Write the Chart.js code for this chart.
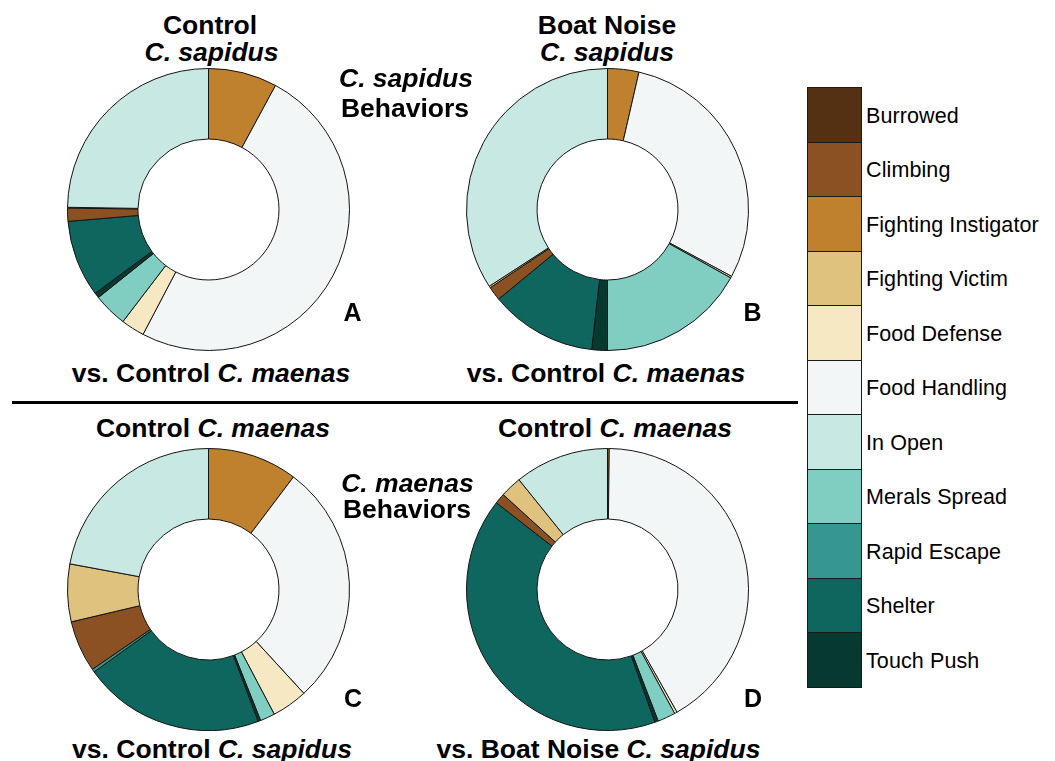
<!DOCTYPE html>
<html>
<head>
<meta charset="utf-8">
<script src="https://cdn.jsdelivr.net/npm/chart.js@4/dist/chart.umd.min.js"></script>
<style>
  html, body { margin: 0; padding: 0; background: #fff; }
  body { width: 1055px; height: 761px; position: relative; overflow: hidden;
         font-family: "Liberation Sans", Arial, Helvetica, sans-serif; color: #000; }
  .panel { position: absolute; width: 283px; height: 283px; }
  .txt { position: absolute; transform: translate(-50%, -50%); white-space: nowrap;
         font-weight: bold; font-size: 26.5px; line-height: 26px; }
  .it { font-style: italic; }
  .letter { font-size: 25px; line-height: 25px; }
  .rule { position: absolute; left: 12px; top: 400.5px; width: 786px; height: 3px; background: #000; }
  #legend { position: absolute; left: 807px; top: 87px; }
  .row { position: relative; height: 54.5px; }
  .sw { position: absolute; left: 0; top: 0; width: 53px; height: 53.5px;
        border: 1px solid #1a1a1a; border-top-width: 0.5px; border-bottom-width: 1px; box-sizing: content-box; }
  .lab { position: absolute; left: 59px; top: calc(50% + 1.5px); transform: translateY(-50%);
         font-size: 21.5px; line-height: 21px; letter-spacing: 0.1px; white-space: nowrap; }
</style>
</head>
<body>

<div class="panel" id="pA" style="left:67px; top:67.5px;"><canvas id="cA" width="283" height="283"></canvas></div>
<div class="panel" id="pB" style="left:466px; top:68px;"><canvas id="cB" width="283" height="283"></canvas></div>
<div class="panel" id="pC" style="left:67.3px; top:448px;"><canvas id="cC" width="283" height="283"></canvas></div>
<div class="panel" id="pD" style="left:466px; top:448px;"><canvas id="cD" width="283" height="283"></canvas></div>

<!-- panel headings -->
<div class="txt" style="left:210px; top:24.5px;">Control</div>
<div class="txt it" style="left:211.5px; top:51.5px;">C. sapidus</div>
<div class="txt" style="left:607px; top:24.5px;">Boat Noise</div>
<div class="txt it" style="left:607px; top:51.5px;">C. sapidus</div>
<div class="txt it" style="left:406px; top:78px;">C. sapidus</div>
<div class="txt" style="left:405px; top:108px;">Behaviors</div>
<div class="txt letter" style="left:352.5px; top:312px;">A</div>
<div class="txt letter" style="left:752.5px; top:312px;">B</div>
<div class="txt" style="left:211px; top:373px;">vs. Control <span class="it">C. maenas</span></div>
<div class="txt" style="left:606px; top:373px;">vs. Control <span class="it">C. maenas</span></div>

<div class="rule"></div>

<div class="txt" style="left:213px; top:428px;">Control <span class="it">C. maenas</span></div>
<div class="txt" style="left:615px; top:428px;">Control <span class="it">C. maenas</span></div>
<div class="txt it" style="left:407.5px; top:483px;">C. maenas</div>
<div class="txt" style="left:407px; top:509px;">Behaviors</div>
<div class="txt letter" style="left:353px; top:698px;">C</div>
<div class="txt letter" style="left:753px; top:698px;">D</div>
<div class="txt" style="left:212px; top:749px;">vs. Control <span class="it">C. sapidus</span></div>
<div class="txt" style="left:598.5px; top:749px;">vs. Boat Noise <span class="it">C. sapidus</span></div>

<div id="legend"></div>

<script>
// Behaviour categories, in legend order, and their fill colours
const categories = ['Burrowed', 'Climbing', 'Fighting Instigator', 'Fighting Victim', 'Food Defense',
  'Food Handling', 'In Open', 'Merals Spread', 'Rapid Escape', 'Shelter', 'Touch Push'];
const categoryColors = ['#543112', '#8b5123', '#bf812d', '#dfc27d', '#f5e8c3',
  '#f3f6f7', '#c7e8e3', '#80cdc1', '#35978f', '#0e665e', '#063a30'];

// Order in which slices run clockwise from 12 o'clock
const sliceOrder = ['Fighting Instigator', 'Food Handling', 'Food Defense', 'Merals Spread', 'Touch Push',
  'Shelter', 'Rapid Escape', 'Climbing', 'Fighting Victim', 'In Open'];

// Percent of time spent in each behaviour (aligned with sliceOrder)
const controlSapidus   = [7.9, 49.9, 2.7, 3.9, 0.6, 8.8, 0, 1.5, 0.1, 24.8];
const boatSapidus      = [3.6, 29.4, 0.2, 17.0, 1.8, 12.3, 0, 1.6, 0.2, 34.3];
const controlMaenasC   = [10.3, 27.9, 4.1, 1.7, 0.3, 20.8, 0.35, 5.9, 6.6, 22.1];
const controlMaenasD   = [0.2, 41.6, 0.3, 2.05, 0.4, 41.0, 0, 1.2, 2.45, 10.8];

function colorOf(name) { return categoryColors[categories.indexOf(name)]; }

function drawDonut(canvasId, values) {
  const labels = [], data = [], colors = [];
  sliceOrder.forEach((name, i) => {
    if (values[i] > 0) { labels.push(name); data.push(values[i]); colors.push(colorOf(name)); }
  });
  new Chart(document.getElementById(canvasId), {
    type: 'doughnut',
    data: {
      labels: labels,
      datasets: [{ data: data, backgroundColor: colors, borderColor: '#141414', borderWidth: 1 }]
    },
    options: {
      responsive: false,
      animation: false,
      events: [],
      cutout: '50%',
      layout: { padding: 0 },
      plugins: { legend: { display: false }, tooltip: { enabled: false } }
    }
  });
}

drawDonut('cA', controlSapidus);
drawDonut('cB', boatSapidus);
drawDonut('cC', controlMaenasC);
drawDonut('cD', controlMaenasD);

// Stacked colour key
const legend = document.getElementById('legend');
categories.forEach((name, i) => {
  const row = document.createElement('div');
  row.className = 'row';
  const sw = document.createElement('div');
  sw.className = 'sw';
  sw.style.background = categoryColors[i];
  const lab = document.createElement('div');
  lab.className = 'lab';
  lab.textContent = name;
  row.appendChild(sw);
  row.appendChild(lab);
  legend.appendChild(row);
});
</script>
</body>
</html>
